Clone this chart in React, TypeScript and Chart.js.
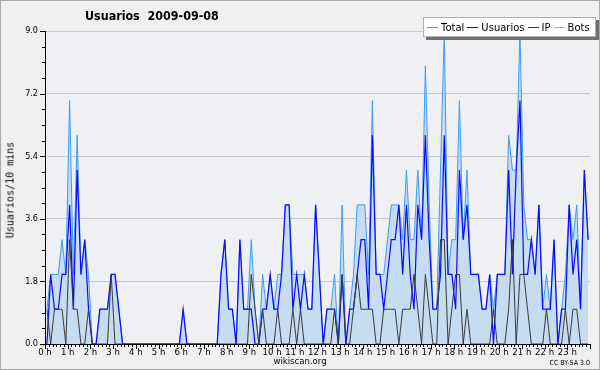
import React, { useEffect, useRef } from "react";
import { Chart, registerables } from "chart.js";

Chart.register(...registerables);

// 10-minute slots, 6 per hour, 0 h .. 23 h 50
const usuarios: number[] = [
  0, 2, 1, 1, 2, 2,
  4, 1, 5, 2, 3, 1,
  0, 0, 1, 1, 1, 2,
  2, 1, 0, 0, 0, 0,
  0, 0, 0, 0, 0, 0,
  0, 0, 0, 0, 0, 0,
  1, 0, 0, 0, 0, 0,
  0, 0, 0, 0, 2, 3,
  1, 1, 0, 3, 1, 1,
  1, 0, 0, 1, 1, 2,
  1, 1, 2, 4, 4, 1,
  2, 1, 2, 1, 1, 4,
  2, 0, 1, 1, 1, 0,
  2, 0, 1, 1, 2, 3,
  3, 1, 6, 2, 2, 1,
  2, 3, 3, 4, 2, 4,
  2, 1, 4, 3, 6, 3,
  1, 1, 2, 6, 2, 2,
  1, 5, 3, 4, 2, 2,
  2, 1, 1, 2, 0, 2,
  2, 2, 5, 2, 5, 7,
  2, 2, 3, 2, 4, 1,
  1, 1, 3, 0, 1, 1,
  4, 2, 3, 1, 5, 3,
];

const ip: number[] = [
  1, 0, 1, 1, 1, 0,
  3, 1, 1, 0, 0, 1,
  0, 0, 0, 0, 0, 2,
  0, 0, 0, 0, 0, 0,
  0, 0, 0, 0, 0, 0,
  0, 0, 0, 0, 0, 0,
  0, 0, 0, 0, 0, 0,
  0, 0, 0, 0, 0, 0,
  0, 0, 0, 0, 0, 0,
  2, 1, 0, 1, 0, 0,
  0, 1, 0, 0, 0, 1,
  0, 1, 0, 0, 0, 0,
  0, 0, 0, 0, 1, 0,
  2, 0, 0, 1, 2, 1,
  1, 1, 1, 0, 0, 1,
  1, 1, 1, 0, 1, 1,
  1, 2, 1, 0, 2, 1,
  0, 0, 3, 3, 0, 1,
  2, 2, 0, 1, 0, 0,
  0, 0, 0, 0, 1, 0,
  0, 0, 1, 3, 0, 2,
  2, 1, 0, 0, 0, 0,
  1, 0, 0, 0, 0, 1,
  0, 1, 1, 0, 0, 0,
];

const total: number[] = [
  1, 2, 2, 2, 3, 2,
  7, 2, 6, 2, 3, 2,
  0, 0, 1, 1, 1, 2,
  2, 1, 0, 0, 0, 0,
  0, 0, 0, 0, 0, 0,
  0, 0, 0, 0, 0, 0,
  1, 0, 0, 0, 0, 0,
  0, 0, 0, 0, 2, 3,
  1, 1, 0, 3, 1, 1,
  3, 1, 0, 2, 1, 2,
  1, 2, 2, 4, 4, 2,
  2, 2, 2, 1, 1, 4,
  2, 0, 1, 1, 2, 0,
  4, 0, 1, 2, 4, 4,
  4, 2, 7, 2, 2, 2,
  3, 4, 4, 4, 3, 5,
  3, 3, 5, 3, 8, 4,
  1, 1, 5, 9, 2, 3,
  3, 7, 3, 5, 2, 2,
  2, 1, 1, 2, 1, 2,
  2, 2, 6, 5, 5, 9,
  4, 3, 3, 2, 4, 1,
  2, 1, 3, 0, 1, 2,
  4, 3, 4, 1, 5, 3,
];

const bots: number[] = [];

const hourLabels: string[] = [
  "0 h", "1 h", "2 h", "3 h", "4 h", "5 h", "6 h", "7 h", "8 h", "9 h", "10 h", "11 h",
  "12 h", "13 h", "14 h", "15 h", "16 h", "17 h", "18 h", "19 h", "20 h", "21 h", "22 h", "23 h",
];
const yTicks: number[] = [0, 1.8, 3.6, 5.4, 7.2, 9.0];

const SLOTS_PER_HOUR = 6;
const FONT = "'DejaVu Sans', sans-serif";
const FONT_C = "'DejaVu Sans Condensed', 'DejaVu Sans', sans-serif";

const COLORS = {
  total: "#3d9cf5",
  totalFill: "#c6dcf0",
  usuarios: "#0a0aff",
  ip: "#3a3a3a",
  bots: "#ffa500",
};

const toPoints = (arr: number[]) => arr.map((v, i) => ({ x: i + 0.5, y: v }));

const decor = {
  id: "decor",
  beforeDraw(chart: any) {
    const { ctx, chartArea } = chart;
    ctx.save();
    ctx.fillStyle = "#f0f0f0";
    ctx.fillRect(0, 0, chart.width, chart.height);
    ctx.fillStyle = "#eef0f3";
    ctx.fillRect(chartArea.left, chartArea.top, chartArea.right - chartArea.left, chartArea.bottom - chartArea.top);
    ctx.restore();
  },
  afterDraw(chart: any) {
    const { ctx, chartArea } = chart;
    const xs = chart.scales.x;
    const ys = chart.scales.y;
    ctx.save();
    ctx.strokeStyle = "#000";
    ctx.lineWidth = 1;
    ctx.beginPath();
    const nSlots = hourLabels.length * SLOTS_PER_HOUR;
    for (let i = 0; i <= nSlots; i++) {
      const px = Math.round(xs.getPixelForValue(i)) + 0.5;
      const len = i % SLOTS_PER_HOUR === 0 ? 5 : 3;
      ctx.moveTo(px, chartArea.bottom);
      ctx.lineTo(px, chartArea.bottom + len);
    }
    const maxY = yTicks[yTicks.length - 1];
    const step = (yTicks[1] - yTicks[0]) / 4;
    for (let k = 0; k * step <= maxY + 1e-9; k++) {
      const py = Math.round(ys.getPixelForValue(k * step)) + 0.5;
      const len = k % 4 === 0 ? 5 : 3;
      ctx.moveTo(chartArea.left - len, py);
      ctx.lineTo(chartArea.left, py);
    }
    ctx.stroke();
    ctx.strokeStyle = "#a8a8a8";
    ctx.strokeRect(0.5, 0.5, chart.width - 1, chart.height - 1);
    ctx.restore();
  },
};

export default function App() {
  const ref = useRef<HTMLCanvasElement | null>(null);

  useEffect(() => {
    if (!ref.current) return;
    const chart = new Chart(ref.current, {
      type: "line",
      data: {
        datasets: [
          {
            label: "Total",
            data: toPoints(total),
            borderColor: COLORS.total,
            backgroundColor: COLORS.totalFill,
            borderWidth: 1,
            fill: "origin",
            pointRadius: 0,
            tension: 0,
            order: 4,
          },
          {
            label: "Bots",
            data: toPoints(bots),
            borderColor: COLORS.bots,
            borderWidth: 1,
            pointRadius: 0,
            order: 3,
          },
          {
            label: "Usuarios",
            data: toPoints(usuarios),
            borderColor: COLORS.usuarios,
            borderWidth: 1.2,
            pointRadius: 0,
            tension: 0,
            order: 2,
          },
          {
            label: "IP",
            data: toPoints(ip),
            borderColor: COLORS.ip,
            borderWidth: 1,
            pointRadius: 0,
            tension: 0,
            order: 1,
          },
        ],
      },
      options: {
        responsive: false,
        animation: false,
        layout: { padding: { left: 0, top: 31, right: 10, bottom: 0 } },
        plugins: { legend: { display: false }, title: { display: false }, tooltip: { enabled: false } },
        scales: {
          x: {
            type: "linear",
            min: 0,
            max: hourLabels.length * SLOTS_PER_HOUR,
            afterFit: (s: any) => { s.height = 26; },
            afterBuildTicks: (s: any) => {
              s.ticks = hourLabels.map((_, h) => ({ value: h * SLOTS_PER_HOUR }));
            },
            ticks: {
              autoSkip: false,
              maxRotation: 0,
              padding: 3,
              color: "#000",
              font: { family: FONT_C, size: 9.5 },
              callback: (v: any) => hourLabels[Math.round(Number(v) / SLOTS_PER_HOUR)] ?? "",
            },
            grid: { display: false, drawTicks: false },
            border: { display: true, color: "#000", width: 1 },
          },
          y: {
            min: 0,
            max: yTicks[yTicks.length - 1],
            afterFit: (s: any) => { s.width = 45; },
            afterBuildTicks: (s: any) => {
              s.ticks = yTicks.map((v) => ({ value: v }));
            },
            ticks: {
              padding: 7,
              color: "#000",
              font: { family: FONT_C, size: 9 },
              callback: (v: any) => Number(v).toFixed(1),
            },
            grid: { color: "#c8c8c8", lineWidth: 1, drawTicks: false },
            border: { display: true, color: "#000", width: 1 },
          },
        },
      },
      plugins: [decor],
    });
    return () => chart.destroy();
  }, []);

  const legendItems = [
    { label: "Total", color: COLORS.total },
    { label: "Usuarios", color: COLORS.usuarios },
    { label: "IP", color: COLORS.ip },
    { label: "Bots", color: COLORS.bots },
  ];

  return (
    <div style={{ position: "absolute", left: 0, top: 0, width: 600, height: 370, background: "#f0f0f0", fontFamily: FONT }}>
      <canvas ref={ref} width={600} height={370} style={{ display: "block" }} />
      <div style={{ position: "absolute", left: 85, top: 8, fontFamily: FONT_C, fontSize: 12.4, fontWeight: "bold", whiteSpace: "pre", color: "#000" }}>
        {"Usuarios  2009-09-08"}
      </div>
      <div
        style={{
          position: "absolute",
          left: 10,
          top: 190,
          transform: "translate(-50%, -50%) rotate(-90deg)",
          fontFamily: "'DejaVu Sans Mono', monospace",
          fontSize: 10,
          whiteSpace: "nowrap",
          color: "#000",
        }}
      >
        Usuarios/10 mins
      </div>
      <div
        style={{
          position: "absolute",
          left: 423,
          top: 17,
          height: 18,
          padding: "0 2px 0 3px",
          background: "#fff",
          border: "1px solid #b0b0b0",
          boxShadow: "3px 3px 0 #707070",
          display: "flex",
          alignItems: "center",
          fontSize: 10,
          whiteSpace: "nowrap",
          color: "#000",
        }}
      >
        {legendItems.map((it) => (
          <span key={it.label} style={{ display: "flex", alignItems: "center", marginRight: 3 }}>
            <span style={{ display: "inline-block", width: 11, height: 0, borderTop: `1px solid ${it.color}`, marginRight: 3 }} />
            <span>{it.label}</span>
          </span>
        ))}
      </div>
      <div style={{ position: "absolute", left: 0, width: 600, top: 355, textAlign: "center", fontFamily: FONT_C, fontSize: 9.5, color: "#000" }}>
        wikiscan.org
      </div>
      <div style={{ position: "absolute", right: 10, top: 359, fontFamily: FONT_C, fontSize: 7, color: "#000" }}>CC BY-SA 3.0</div>
    </div>
  );
}
